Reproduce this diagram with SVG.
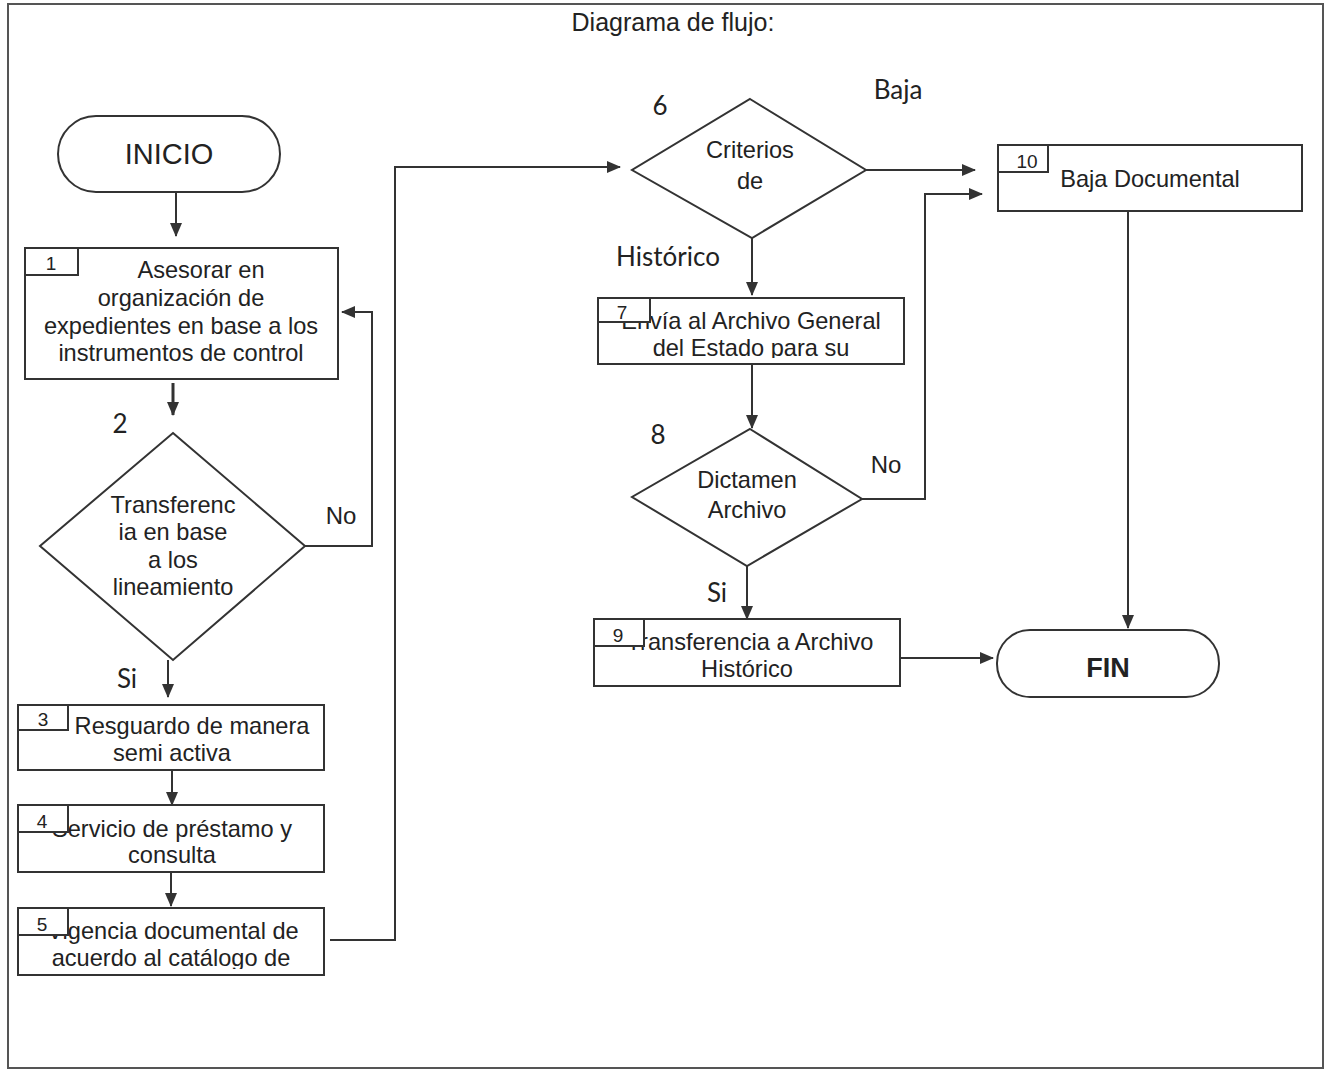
<svg xmlns="http://www.w3.org/2000/svg" width="1327" height="1071" viewBox="0 0 1327 1071">
<defs>
<marker id="ah" markerUnits="userSpaceOnUse" markerWidth="14" markerHeight="12" refX="13" refY="6" orient="auto">
<path d="M0,0 L14,6 L0,12 Z" fill="#333"/>
</marker>
<clipPath id="c5"><rect x="18" y="908" width="306" height="61"/></clipPath>
<clipPath id="c7"><rect x="598" y="298" width="306" height="60"/></clipPath>
</defs>
<style>
.s{fill:#fff;stroke:#333;stroke-width:2}
.t{font-family:"Liberation Sans",Arial,sans-serif;font-size:23.6px;fill:#222;text-anchor:middle}
.n{font-family:"Liberation Sans",Arial,sans-serif;font-size:19px;fill:#222;text-anchor:middle}
.c{font-family:Lato,"Open Sans",sans-serif;font-size:26px;fill:#222;text-anchor:middle}
.l{fill:none;stroke:#333;stroke-width:2}
</style>
<rect x="8" y="4" width="1315" height="1064" fill="#fff" stroke="#555" stroke-width="2"/>
<text x="673" y="31" class="t" style="font-size:25px">Diagrama de flujo:</text>

<g id="connectors">
<path class="l" d="M176,192 V236" marker-end="url(#ah)"/>
<path class="l" d="M173,383 V415" style="stroke-width:3" marker-end="url(#ah)"/>
<path class="l" d="M305,546 H372 V312 H342" marker-end="url(#ah)"/>
<path class="l" d="M168,660 V697" marker-end="url(#ah)"/>
<path class="l" d="M172,770 V805" marker-end="url(#ah)"/>
<path class="l" d="M171,872 V906" marker-end="url(#ah)"/>
<path class="l" d="M330,940 H395 V167 H620" marker-end="url(#ah)"/>
<path class="l" d="M866,170 H975" marker-end="url(#ah)"/>
<path class="l" d="M752,238 V295" marker-end="url(#ah)"/>
<path class="l" d="M752,364 V428" marker-end="url(#ah)"/>
<path class="l" d="M862,499 H925 V194 H982" marker-end="url(#ah)"/>
<path class="l" d="M747,566 V619" marker-end="url(#ah)"/>
<path class="l" d="M900,658 H993" marker-end="url(#ah)"/>
<path class="l" d="M1128,211 V628" marker-end="url(#ah)"/>
<text x="341" y="524" class="t" style="font-size:24px">No</text>
<text x="127" y="688" class="c">Si</text>
<text x="898" y="99" class="c">Baja</text>
<text x="668" y="266" class="c">Histórico</text>
<text x="886" y="473" class="t" style="font-size:24px">No</text>
<text x="717" y="602" class="c">Si</text>
</g>

<g id="inicio">
<rect x="58" y="116" width="222" height="76" rx="38" class="s"/>
<text x="169" y="164" class="t" style="font-size:29px">INICIO</text>
</g>

<g id="n1">
<rect x="25" y="248" width="313" height="131" class="s"/>
<rect x="25" y="248" width="53" height="27" class="s"/>
<text x="51" y="270" class="n">1</text>
<text x="201" y="278" class="t">Asesorar en</text>
<text x="181" y="306" class="t">organización de</text>
<text x="181" y="334" class="t">expedientes en base a los</text>
<text x="181" y="361" class="t">instrumentos de control</text>
</g>

<g id="n2">
<polygon points="173,433 305,546 173,660 40,546" class="s"/>
<text x="120" y="433" class="c">2</text>
<text x="173" y="513" class="t">Transferenc</text>
<text x="173" y="540" class="t">ia en base</text>
<text x="173" y="568" class="t">a los</text>
<text x="173" y="595" class="t">lineamiento</text>
</g>

<g id="n3">
<rect x="18" y="705" width="306" height="65" class="s"/>
<rect x="18" y="705" width="50" height="25" class="s"/>
<text x="43" y="726" class="n">3</text>
<text x="192" y="734" class="t">Resguardo de manera</text>
<text x="172" y="761" class="t">semi activa</text>
</g>

<g id="n4">
<rect x="18" y="805" width="306" height="67" class="s"/>
<text x="172" y="837" class="t">Servicio de préstamo y</text>
<text x="172" y="863" class="t">consulta</text>
<rect x="18" y="805" width="50" height="27" class="s"/>
<text x="42" y="828" class="n">4</text>
</g>

<g id="n5">
<rect x="18" y="908" width="306" height="67" class="s"/>
<g clip-path="url(#c5)">
<text x="173" y="939" class="t">Vigencia documental de</text>
<text x="171" y="966" class="t">acuerdo al catálogo de</text>
</g>
<rect x="18" y="908" width="50" height="27" class="s"/>
<text x="42" y="931" class="n">5</text>
</g>

<g id="n6">
<polygon points="750,99 866,170 752,238 632,170" class="s"/>
<text x="660" y="115" class="c">6</text>
<text x="750" y="158" class="t">Criterios</text>
<text x="750" y="189" class="t">de</text>
</g>

<g id="n7">
<rect x="598" y="298" width="306" height="66" class="s"/>
<g clip-path="url(#c7)">
<text x="751" y="329" class="t">Envía al Archivo General</text>
<text x="751" y="356" class="t">del Estado para su</text>
</g>
<rect x="598" y="298" width="52" height="24" class="s"/>
<text x="622" y="319" class="n">7</text>
</g>

<g id="n8">
<polygon points="750,429 862,499 747,566 632,497" class="s"/>
<text x="658" y="444" class="c">8</text>
<text x="747" y="488" class="t">Dictamen</text>
<text x="747" y="518" class="t">Archivo</text>
</g>

<g id="n9">
<rect x="594" y="619" width="306" height="67" class="s"/>
<text x="750" y="650" class="t">Transferencia a Archivo</text>
<text x="747" y="677" class="t">Histórico</text>
<rect x="594" y="619" width="50" height="27" class="s"/>
<text x="618" y="642" class="n">9</text>
</g>

<g id="n10">
<rect x="998" y="145" width="304" height="66" class="s"/>
<rect x="998" y="145" width="50" height="27" class="s"/>
<text x="1027" y="168" class="n">10</text>
<text x="1150" y="187" class="t">Baja Documental</text>
</g>

<g id="fin">
<rect x="997" y="630" width="222" height="67" rx="33" class="s"/>
<text x="1108" y="677" class="t" style="font-size:27px;font-weight:bold">FIN</text>
</g>
</svg>
